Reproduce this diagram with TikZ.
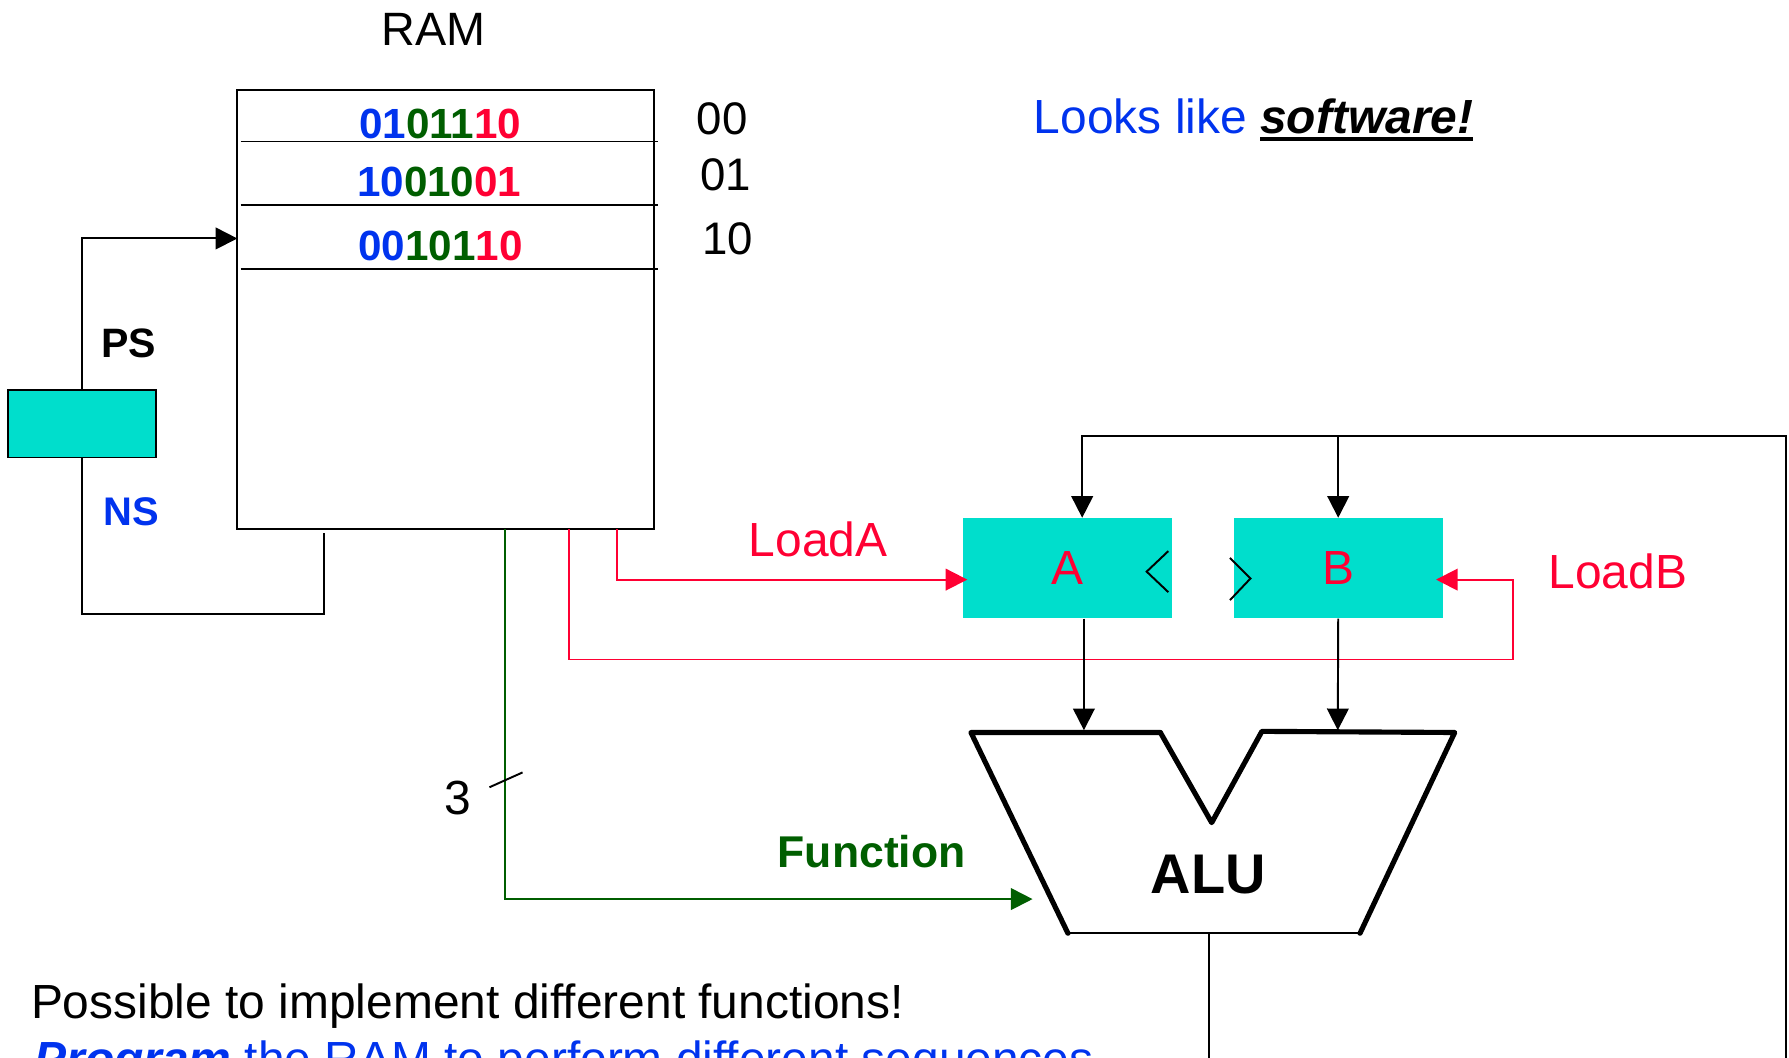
\documentclass[tikz,border=0pt]{standalone}
\usepackage{fontspec}
\setmainfont{Liberation Sans}
\usepackage{tikz}
\usetikzlibrary{positioning,arrows.meta}

\definecolor{regteal}{RGB}{0,222,204}
\definecolor{sigred}{RGB}{255,0,51}
\definecolor{fngreen}{RGB}{0,94,0}
\definecolor{txtblue}{RGB}{0,51,238}

\newcommand{\fsz}[1]{\fontsize{#1}{#1}\selectfont}
\newcommand{\wordbits}[3]{\textcolor{txtblue}{#1}\textcolor{fngreen}{#2}\textcolor{sigred}{#3}}
\newcommand{\thickul}[1]{\setbox0=\hbox{#1}\rlap{\rule[-7pt]{\wd0}{4pt}}\box0}

\begin{document}
\begin{tikzpicture}[x=1pt,y=-1pt,>={Triangle[length=19pt,width=19pt]},
  wire/.style={line width=1.7pt},
  alu/.style={line width=4.5pt,line cap=round,line join=round},
  reg/.style={fill=regteal,minimum width=183pt,minimum height=88pt,inner sep=0pt,font=\fsz{42},text=sigred},
  lbl/.style={inner sep=0pt,anchor=base},
  bitrow/.style={lbl,font=\bfseries\fsz{37}}]
  \useasboundingbox (0,0) rectangle (1568,927);

  \node[lbl,font=\fsz{41}] (ramlbl) at (380,40) {RAM};
  \node[draw,wire,minimum width=365pt,minimum height=385pt,inner sep=0pt] (ram) at (390.5,271.5) {};
  \foreach \y in {124,180,236}
    \draw[wire] (211,\y) -- (577,\y);
  \node[bitrow] (w0) at (386,121) {\wordbits{01}{011}{10}};
  \node[bitrow] (w1) at (385,172) {\wordbits{10}{010}{01}};
  \node[bitrow] (w2) at (386,228) {\wordbits{00}{101}{10}};
  \node[lbl,font=\fsz{40}] (ad0) at (633,118) {00};
  \node[lbl,font=\fsz{40}] (ad1) at (636,167) {01};
  \node[lbl,font=\fsz{40}] (ad2) at (638,223) {10};

  \node[lbl,anchor=base west,font=\fsz{42},text=txtblue] (look) at (906,117)
    {Looks like {\color{black}\thickul{\bfseries\itshape software!}}};

  \node[draw,wire,fill=regteal,minimum width=130pt,minimum height=59pt] (ps) at (72,371.5) {};
  \node[lbl,font=\bfseries\fsz{36}] (pslbl) at (113,313) {PS};
  \node[lbl,font=\bfseries\fsz{35},text=txtblue] (nslbl) at (115,461) {NS};
  \coordinate (ptr) at (208,209);
  \coordinate (nsin) at (284,467);
  \draw[wire,->] (ps.north) |- (ptr);
  \draw[wire] (ps.south) |- (284,538) -- (nsin);

  \node[reg] (A) at (935.5,498) {A};
  \node[reg,right=54pt of A] (B) {B};
  \draw[wire] (1024,483) -- (1005,501) -- (1024,519);
  \draw[wire] (1078,489) -- (1096,507) -- (1078,526);

  \coordinate (fnout) at (443,464);
  \coordinate (ldbout) at (499,464);
  \coordinate (ldaout) at (541,464);
  \coordinate (aluf) at (905,788);
  \coordinate (alua) at (950,640);
  \coordinate (alub) at (1172.5,640);
  \coordinate (aluout) at (1060,818);
  \coordinate (aluend) at (1060,927);
  \coordinate (fbin) at (1565,927);
  \coordinate (fbtop) at (1565,382);

  \draw[wire,sigred,->] (ldaout) |- ([xshift=4pt,yshift=-10pt]A.west);
  \draw[wire,sigred,->] (ldbout) |- (1326,578) |- ([xshift=-6pt,yshift=-10pt]B.east);
  \node[lbl,font=\fsz{42},text=sigred] (ldalbl) at (717,488) {LoadA};
  \node[lbl,font=\fsz{42},text=sigred] (ldblbl) at (1418,516) {LoadB};

  \draw[wire,fngreen,->] (fnout) |- (aluf);
  \draw[wire] (429,690) -- (458,677);
  \node[lbl,font=\fsz{42}] (fnwidth) at (401,714) {3};
  \node[lbl,font=\bfseries\fsz{39},text=fngreen] (fnlbl) at (764,760) {Function};

  \draw[wire,->] (fbin) -- (fbtop) -| ([xshift=13pt]A.north);
  \draw[wire,->] (B.north |- fbtop) -- (B.north);
  \draw[wire,->] ([xshift=14.5pt]A.south) -- (alua);
  \draw[wire,->] (B.south) -- (alub);

  \draw[alu] (1017,642) -- (851,642) -- (936,818);
  \draw[wire] (936,818) -- (1192,818);
  \draw[alu] (1192,818) -- (1275,642) -- (1106,641) -- (1062,721) -- (1017,642);
  \node[lbl,font=\bfseries\fsz{49}] (alulbl) at (1059,783) {ALU};
  \draw[wire] (aluout) -- (aluend);

  \node[lbl,anchor=base west,font=\fsz{42}] (note1) at (27,893) {Possible to implement different functions!};
  \node[lbl,anchor=base west,font=\fsz{42},text=txtblue] (note2) at (30,943)
    {\textbf{\textit{Program}} the RAM to perform different sequences};
\end{tikzpicture}
\end{document}
